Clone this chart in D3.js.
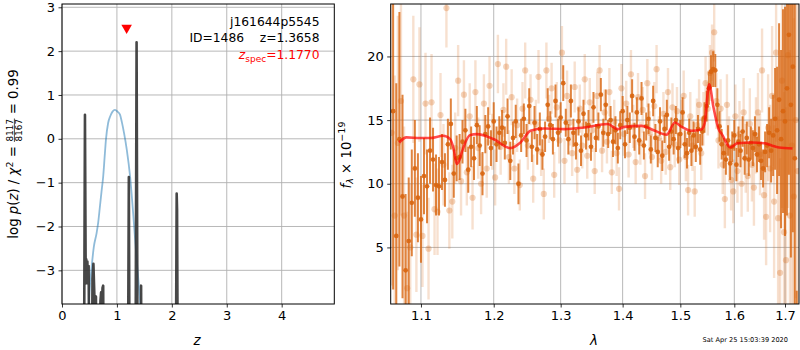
<!DOCTYPE html>
<html><head><meta charset="utf-8">
<script src="https://cdn.jsdelivr.net/npm/d3@7"></script>
<style>body{margin:0;background:#fff} svg{display:block;font-family:"DejaVu Sans",sans-serif}</style>
</head><body><svg id="c" width="800" height="350"></svg>
<script>
// ---------- Left panel data ----------
const zTicks = [0,1,2,3,4];
const logpTicks = [-3,-2,-1,0,1,2,3];
const pzZ   = [0.38,0.405,0.418,0.432,0.442,0.452,0.462,0.472,0.485,0.50,0.53,0.555,0.572,0.59,0.605,0.618,0.632,0.66,0.69,0.70,0.712,0.725,0.738,0.75,0.765,0.80,
               1.19,1.217,1.24,1.33,1.358,1.385,1.425,1.44,1.455,2.06,2.088,2.095,2.12];
const pzLog = [-9,-4,0.55,-3.3,-2.75,-3.25,-2.8,-3.3,-2.9,-6,-9,-3.2,-2.85,-3.6,-9,-3.6,-9,-9,-9,-3.7,-3.5,-3.9,-3.4,-3.35,-9,-9,
               -9,-0.87,-9,-9,2.2,-9,-9,-3.35,-9,-9,-1.25,-1.6,-9];
const priorZ   = [0.47,0.50,0.54,0.58,0.63,0.66,0.69,0.72,0.75,0.78,0.80,0.84,0.88,0.92,0.965,1.01,1.056,1.09,1.13,1.18,1.24,1.30,1.36,1.42,1.45];
const priorLog = [-4.2,-3.5,-2.92,-2.46,-2.15,-1.9,-1.55,-1.2,-0.86,-0.35,-0.02,0.36,0.52,0.62,0.66,0.62,0.55,0.38,0.13,-0.25,-0.86,-1.77,-2.76,-3.68,-4.2];
const zSpec = 1.1770, zSpecMarkerY = 2.53;

// ---------- Right panel data ----------
const lamTicks = [1.1,1.2,1.3,1.4,1.5,1.6,1.7];
const fluxTicks = [5,10,15,20];
const darkLam = [
1.064,1.068,1.072,1.076,1.080,1.084,1.088,1.092,1.096,1.100,
1.104,1.108,1.112,1.116,1.120,1.124,1.128,1.132,1.136,1.140,
1.144,1.148,1.152,1.156,1.160,1.164,1.168,1.172,1.176,1.180,
1.184,1.188,1.192,1.196,1.200,1.204,1.208,1.212,1.216,1.220,
1.224,1.228,1.232,1.236,1.240,1.244,1.248,1.252,1.256,1.260,
1.264,1.268,1.272,1.276,1.280,1.284,1.288,1.292,1.296,1.300,
1.304,1.308,1.312,1.316,1.320,1.324,1.328,1.332,1.336,1.340,
1.344,1.348,1.352,1.356,1.360,1.364,1.368,1.372,1.376,1.380,
1.384,1.388,1.392,1.396,1.400,1.404,1.408,1.412,1.416,1.420,
1.424,1.428,1.432,1.436,1.440,1.444,1.448,1.452,1.456,1.460,
1.464,1.468,1.472,1.476,1.480,1.484,1.488,1.492,1.496,1.500,
1.504,1.508,1.512,1.516,1.520,1.524,1.528,1.532,1.536,1.540,
1.544,1.548,1.552,1.556,1.560,1.564,1.568,1.572,1.576,1.580,
1.584,1.588,1.592,1.596,1.600,1.604,1.608,1.612,1.616,1.620,
1.624,1.628,1.632,1.636,1.640,1.644,1.648,1.652,1.656,1.660,
1.664,1.668,1.672,1.676,1.680,1.684,1.688,1.692,1.696,1.700,
1.704,1.708,1.712,1.716,1.720,1.724];
const darkFlux = [
15.7,5.9,13.5,9.0,3.2,5.5,8.5,11.2,8.9,7.2,
10.6,9.8,12.6,11.9,9.9,9.8,11.7,10.3,13.1,14.7,
10.8,12.0,12.1,13.3,14.2,11.1,12.9,12.0,14.6,13.0,
10.8,13.9,14.5,12.8,14.9,13.1,14.0,14.4,13.2,15.3,
11.8,13.6,14.9,10.0,13.8,15.1,13.4,16.1,12.9,14.8,
12.7,14.3,12.3,13.7,16.2,14.6,13.5,16.5,14.0,15.2,
17.9,14.8,13.5,16.5,14.0,13.1,14.9,12.6,15.5,13.8,
14.6,12.9,16.0,13.6,14.5,17.0,14.0,16.2,13.9,15.0,
13.3,14.2,12.8,14.6,15.7,13.1,15.0,14.4,16.9,13.7,
15.6,13.4,16.7,13.0,14.5,15.1,12.7,16.5,13.6,12.5,
14.9,12.2,14.3,15.4,12.9,14.1,13.5,15.0,12.8,13.9,
15.6,13.1,12.4,14.0,12.6,13.8,12.9,14.3,12.7,14.1,
15.2,16.1,17.5,18.8,19.0,18.9,16.2,14.5,13.1,12.4,
11.9,13.4,11.6,12.9,13.8,11.5,13.3,12.6,14.1,12.0,
13.6,11.9,13.2,12.8,13.9,12.3,13.1,11.8,11.2,12.5,
13.0,14.0,12.6,13.8,15.1,14.2,16.6,13.5,15.7,14.9,
17.5,21.7,16.2,19.2,12.0,-2.0];
const darkErr = [
14,12,10,8,6,5,4.2,3.8,3.5,3.4,
3.0,2.9,2.6,2.5,2.4,2.3,2.2,2.1,2.0,2.0,
1.9,1.8,1.8,1.7,1.7,1.8,1.6,1.7,1.5,1.6,
1.7,1.5,1.5,1.4,1.5,1.4,1.3,1.4,1.3,1.4,
1.5,1.3,1.3,1.6,1.3,1.2,1.3,1.4,1.2,1.3,
1.2,1.3,1.2,1.2,1.3,1.1,1.2,1.3,1.1,1.2,
1.4,1.1,1.2,1.3,1.1,1.2,1.1,1.2,1.1,1.1,
1.2,1.1,1.2,1.1,1.1,1.3,1.1,1.2,1.1,1.1,
1.2,1.1,1.2,1.1,1.2,1.1,1.1,1.2,1.3,1.1,
1.2,1.1,1.3,1.1,1.1,1.2,1.1,1.2,1.1,1.2,
1.1,1.2,1.1,1.2,1.1,1.1,1.2,1.1,1.2,1.1,
1.2,1.1,1.2,1.1,1.2,1.1,1.2,1.1,1.2,1.1,
1.2,1.2,1.3,1.3,1.4,1.3,1.3,1.2,1.2,1.2,
1.2,1.2,1.3,1.2,1.2,1.3,1.2,1.3,1.2,1.3,
1.3,1.3,1.3,1.4,1.4,1.4,1.4,1.5,1.5,1.6,
1.7,2.0,2.5,3.2,4.0,5.0,6.0,7.0,8.0,9.0,
10,11,12,13,14,3.6];
const lightLam = [
1.062,1.066,1.070,1.074,1.078,1.082,1.086,1.090,1.094,1.098,
1.102,1.106,1.110,1.114,1.118,1.122,1.126,1.130,1.134,1.138,
1.142,1.146,1.150,1.154,1.158,1.162,1.166,1.170,1.174,1.178,
1.182,1.186,1.190,1.194,1.198,1.202,1.206,1.210,1.214,1.218,
1.222,1.226,1.230,1.234,1.238,1.242,1.246,1.250,1.254,1.258,
1.262,1.266,1.270,1.274,1.278,1.282,1.286,1.290,1.294,1.298,
1.302,1.306,1.310,1.314,1.318,1.322,1.326,1.330,1.334,1.338,
1.342,1.346,1.350,1.354,1.358,1.362,1.366,1.370,1.374,1.378,
1.382,1.386,1.390,1.394,1.398,1.402,1.406,1.410,1.414,1.418,
1.422,1.426,1.430,1.434,1.438,1.442,1.446,1.450,1.454,1.458,
1.462,1.466,1.470,1.474,1.478,1.482,1.486,1.490,1.494,1.498,
1.502,1.506,1.510,1.514,1.518,1.522,1.526,1.530,1.534,1.538,
1.542,1.546,1.550,1.554,1.558,1.562,1.566,1.570,1.574,1.578,
1.582,1.586,1.590,1.594,1.598,1.602,1.606,1.610,1.614,1.618,
1.622,1.626,1.630,1.634,1.638,1.642,1.646,1.650,1.654,1.658,
1.662,1.666,1.670,1.674,1.678,1.682,1.686,1.690,1.694,1.698,
1.702,1.706,1.710,1.714,1.718,1.722,1.726];
const lightFlux = [
14.0,7.5,13.2,16.5,7.5,1.8,5.0,18.2,6.0,17.8,
5.9,16.3,4.9,16.4,8.0,7.8,15.4,11.5,23.8,7.9,
8.6,12.8,18.1,10.2,17.0,10.9,15.3,8.9,17.2,12.8,
10.0,16.3,11.2,17.7,13.3,10.5,19.4,12.9,15.8,19.2,
12.1,16.8,11.2,14.6,9.9,15.9,18.9,13.0,16.6,10.4,
14.7,18.4,12.5,9.2,18.9,15.1,17.5,10.7,16.0,13.4,
20.3,11.8,16.9,14.8,12.4,17.6,11.1,15.9,13.0,18.2,
12.2,16.4,14.2,11.0,16.9,18.9,12.6,15.6,13.3,17.2,
10.9,14.9,12.4,9.6,17.5,13.9,16.3,12.3,18.6,14.5,
11.7,16.8,13.2,15.8,10.6,17.9,14.0,12.1,16.1,19.0,
13.6,11.8,15.5,12.5,17.2,11.3,16.0,13.1,15.7,11.9,
14.8,16.9,12.1,9.5,15.3,13.0,9.4,14.6,16.2,12.4,
15.1,17.9,15.9,18.7,20.3,21.9,16.5,13.4,15.9,11.5,
8.8,16.2,12.9,10.3,9.4,15.3,11.0,13.9,10.0,15.6,
12.0,10.6,14.7,11.5,9.7,13.8,15.6,12.3,18.9,9.1,
7.4,14.4,11.2,16.9,8.6,20.3,7.3,3.0,18.1,6.2,
4.0,20.1,7.5,13.0,9.0,15.0,11.0];
const lightErr = [
12,11,10,9,7,6,5,5,4.5,4.5,
4,4,4,3.8,3.6,3.4,3.3,3.2,3.1,3.0,
2.9,2.8,2.8,2.7,2.7,2.6,2.6,2.5,2.5,2.4,
2.4,2.3,2.3,2.3,2.2,2.2,2.3,2.2,2.1,2.2,
2.1,2.2,2.0,2.1,2.0,2.1,2.2,1.9,2.0,1.9,
1.9,2.1,1.9,2.0,2.2,1.9,2.0,1.8,2.0,1.8,
2.1,1.8,2.0,1.8,1.8,2.0,1.8,1.9,1.8,2.0,
1.8,1.9,1.7,1.8,1.9,2.0,1.7,1.8,1.7,1.9,
1.7,1.7,1.8,1.7,1.9,1.7,1.8,1.8,1.9,1.7,
1.7,1.9,1.7,1.8,1.8,1.9,1.7,1.8,1.9,1.9,
1.7,1.8,1.7,1.8,1.9,1.8,1.9,1.8,1.9,2.0,
1.8,2.0,1.9,2.0,1.9,2.0,2.0,2.1,2.0,2.1,
2.1,2.1,2.1,2.2,2.2,2.3,2.2,2.2,2.3,2.3,
2.3,2.4,2.4,2.4,2.5,2.5,2.5,2.6,2.6,2.7,
2.7,2.8,2.8,2.9,3.0,3.0,3.1,3.2,3.3,3.5,
3.8,4.2,5,5.5,6,7,8,9,10,11,
12,12,13,13,14,14,14];
const modelLam  = [1.0717,1.0812,1.0987,1.1119,1.1298,1.139,1.144,1.148,1.152,1.155,1.1665,1.1757,1.1997,1.2241,1.239,1.254,1.2742,1.3055,1.3373,1.3752,1.3918,1.403,1.4318,1.4552,1.4755,1.4904,1.5025,1.5206,1.539,1.5445,1.5525,1.5607,1.5701,1.5764,1.5923,1.6052,1.6344,1.6609,1.6743,1.6878,1.7153];
const modelFlux = [13.24,13.64,13.59,13.59,13.77,13.51,12.7,11.55,11.9,12.46,13.82,13.9,13.51,12.8,13.24,14.16,14.34,14.29,14.42,14.69,14.29,14.47,14.55,14.16,13.85,14.81,14.47,14.16,14.29,14.8,17.82,15.99,14.3,13.9,12.85,13.17,13.24,13.17,12.99,12.85,12.77];

// ---------- Drawing ----------
const svg = d3.select("#c");
const minus = d => (d < 0 ? "\u2212" + Math.abs(d) : String(d));
const gridCol = "#b0b0b0";
const orange = "#d8650f";

function styleAxis(g){
  g.select(".domain").remove();
  g.selectAll(".tick line").attr("stroke","#000").attr("stroke-width",0.8);
  g.selectAll(".tick text").attr("fill","#000").style("font-size","13px").style("font-family","DejaVu Sans");
}

// Left panel
const L = {x0:62, x1:334.3, y0:4, y1:304};
const xz = d3.scaleLinear().domain([0,4.958]).range([L.x0,L.x1]);
const yp = d3.scaleLinear().domain([-3.768,3.075]).range([L.y1,L.y0]);
svg.append("clipPath").attr("id","clipL").append("rect").attr("x",L.x0).attr("y",L.y0).attr("width",L.x1-L.x0).attr("height",L.y1-L.y0);
const gL = svg.append("g");
gL.selectAll(".vg").data(zTicks).join("line").attr("x1",d=>xz(d)).attr("x2",d=>xz(d)).attr("y1",L.y0).attr("y2",L.y1).attr("stroke",gridCol).attr("stroke-width",0.9);
gL.selectAll(".hg").data(logpTicks).join("line").attr("y1",d=>yp(d)).attr("y2",d=>yp(d)).attr("x1",L.x0).attr("x2",L.x1).attr("stroke",gridCol).attr("stroke-width",0.9);
const dataL = gL.append("g").attr("clip-path","url(#clipL)");
dataL.append("path").datum(d3.range(priorZ.length)).attr("fill","none").attr("stroke","#1f77b4").attr("stroke-opacity",0.5).attr("stroke-width",1.8)
  .attr("d", d3.line().x(i=>xz(priorZ[i])).y(i=>yp(priorLog[i])).curve(d3.curveMonotoneX));
dataL.append("path").datum(d3.range(pzZ.length)).attr("fill","none").attr("stroke","#333").attr("stroke-opacity",0.9).attr("stroke-width",2.6).attr("stroke-linejoin","round")
  .attr("d", d3.line().x(i=>xz(pzZ[i])).y(i=>yp(pzLog[i])));
gL.append("path").attr("d", d3.symbol(d3.symbolTriangle, 48)()).attr("fill","red")
  .attr("transform",`translate(${xz(zSpec)},${yp(zSpecMarkerY)}) rotate(180)`);
gL.append("rect").attr("x",L.x0).attr("y",L.y0).attr("width",L.x1-L.x0).attr("height",L.y1-L.y0).attr("fill","none").attr("stroke","#000").attr("stroke-width",1);
const axLx = gL.append("g").attr("transform",`translate(0,${L.y1})`).call(d3.axisBottom(xz).tickValues(zTicks).tickSize(3.5).tickPadding(3.5).tickFormat(minus));
styleAxis(axLx);
const axLy = gL.append("g").attr("transform",`translate(${L.x0},0)`).call(d3.axisLeft(yp).tickValues(logpTicks).tickSize(3.5).tickPadding(3.5).tickFormat(minus));
styleAxis(axLy);
// annotations
const tx = 319.5;
gL.append("text").attr("x",tx).attr("y",26).attr("text-anchor","end").style("font-size","12.3px").text("j161644p5545");
gL.append("text").attr("x",tx).attr("y",41.5).attr("text-anchor","end").style("font-size","12.3px").text("ID=1486\u00a0\u00a0\u00a0\u00a0z=1.3658");
const zs = gL.append("text").attr("x",tx).attr("y",59).attr("text-anchor","end").style("font-size","12.3px").attr("fill","red");
zs.append("tspan").style("font-style","italic").text("z");
zs.append("tspan").attr("dy",2.5).style("font-size","9px").text("spec");
zs.append("tspan").attr("dy",-2.5).text("=1.1770");
// x label
gL.append("text").attr("x",197).attr("y",345).attr("text-anchor","middle").style("font-size","13.5px").style("font-style","italic").text("z");
// y label (rotated, with fraction)
const yl = svg.append("g").attr("transform","translate(18,154) rotate(-90)");
const t1 = yl.append("text").attr("x",0).attr("y",0).style("font-size","13.3px");
t1.append("tspan").text("log\u00a0");
t1.append("tspan").style("font-style","italic").text("p");
t1.append("tspan").text("(");
t1.append("tspan").style("font-style","italic").text("z");
t1.append("tspan").text(")\u00a0/\u00a0");
t1.append("tspan").style("font-style","italic").text("\u03c7");
t1.append("tspan").attr("dy",-5).style("font-size","9.5px").text("2");
t1.append("tspan").attr("dy",5).text("\u00a0=\u00a0");
const w1 = t1.node().getComputedTextLength();
const fr = yl.append("g");
const num = fr.append("text").attr("y",-4.8).style("font-size","8.8px").text("8117");
const den = fr.append("text").attr("y",4.4).style("font-size","8.8px").text("8167");
const wf = Math.max(num.node().getComputedTextLength(), den.node().getComputedTextLength()) + 1;
const t3 = yl.append("text").attr("y",0).style("font-size","13.3px").text("\u00a0=\u00a00.99");
const w3 = t3.node().getComputedTextLength();
const W = w1 + wf + w3;
const sx = -W/2;
t1.attr("x", sx);
num.attr("x", sx + w1 + 0.5);
den.attr("x", sx + w1 + 0.5);
fr.append("line").attr("x1",sx+w1).attr("x2",sx+w1+wf).attr("y1",-3.6).attr("y2",-3.6).attr("stroke","#000").attr("stroke-width",0.7);
t3.attr("x", sx + w1 + wf);

// Right panel
const R = {x0:390.7, x1:799, y0:4, y1:304};
const xl = d3.scaleLog().domain([1.0609,1.7287]).range([R.x0,R.x1]);
const yf = d3.scaleLinear().domain([0.555,24.12]).range([R.y1,R.y0]);
svg.append("clipPath").attr("id","clipR").append("rect").attr("x",R.x0).attr("y",R.y0).attr("width",R.x1-R.x0).attr("height",R.y1-R.y0);
const gR = svg.append("g");
gR.selectAll(".vg").data(lamTicks).join("line").attr("x1",d=>xl(d)).attr("x2",d=>xl(d)).attr("y1",R.y0).attr("y2",R.y1).attr("stroke",gridCol).attr("stroke-width",0.9);
gR.selectAll(".hg").data(fluxTicks).join("line").attr("y1",d=>yf(d)).attr("y2",d=>yf(d)).attr("x1",R.x0).attr("x2",R.x1).attr("stroke",gridCol).attr("stroke-width",0.9);
const dataR = gR.append("g").attr("clip-path","url(#clipR)");
const li = d3.range(Math.min(lightLam.length,lightFlux.length,lightErr.length));
dataR.append("g").selectAll("line").data(li).join("line")
  .attr("x1",i=>xl(lightLam[i])).attr("x2",i=>xl(lightLam[i]))
  .attr("y1",i=>yf(lightFlux[i]-lightErr[i])).attr("y2",i=>yf(lightFlux[i]+lightErr[i]))
  .attr("stroke",orange).attr("stroke-opacity",0.2).attr("stroke-width",2.4);
dataR.append("g").selectAll("circle").data(li).join("circle")
  .attr("cx",i=>xl(lightLam[i])).attr("cy",i=>yf(lightFlux[i])).attr("r",3.1)
  .attr("fill",orange).attr("fill-opacity",0.28);
const di = d3.range(Math.min(darkLam.length,darkFlux.length,darkErr.length));
dataR.append("g").selectAll("line").data(di).join("line")
  .attr("x1",i=>xl(darkLam[i])).attr("x2",i=>xl(darkLam[i]))
  .attr("y1",i=>yf(darkFlux[i]-darkErr[i])).attr("y2",i=>yf(darkFlux[i]+darkErr[i]))
  .attr("stroke",orange).attr("stroke-opacity",0.8).attr("stroke-width",2);
dataR.append("g").selectAll("circle").data(di).join("circle")
  .attr("cx",i=>xl(darkLam[i])).attr("cy",i=>yf(darkFlux[i])).attr("r",2.4)
  .attr("fill",orange).attr("fill-opacity",0.9);
dataR.append("path").datum(d3.range(modelLam.length)).attr("fill","none").attr("stroke","red").attr("stroke-opacity",0.7).attr("stroke-width",2.6)
  .attr("d", d3.line().x(i=>xl(modelLam[i])).y(i=>yf(modelFlux[i])).curve(d3.curveMonotoneX));
gR.append("rect").attr("x",R.x0).attr("y",R.y0).attr("width",R.x1-R.x0).attr("height",R.y1-R.y0).attr("fill","none").attr("stroke","#000").attr("stroke-width",1);
const axRx = gR.append("g").attr("transform",`translate(0,${R.y1})`).call(d3.axisBottom(xl).tickValues(lamTicks).tickSize(3.5).tickPadding(3.5).tickFormat(d3.format(".1f")));
styleAxis(axRx);
const axRy = gR.append("g").attr("transform",`translate(${R.x0},0)`).call(d3.axisLeft(yf).tickValues(fluxTicks).tickSize(3.5).tickPadding(3.5).tickFormat(d3.format("d")));
styleAxis(axRy);
gR.append("text").attr("x",594).attr("y",345).attr("text-anchor","middle").style("font-size","13.5px").style("font-style","italic").text("\u03bb");
const yr = svg.append("g").attr("transform","translate(350.5,155) rotate(-90)");
const tr = yr.append("text").attr("text-anchor","middle").style("font-size","13.3px");
tr.append("tspan").style("font-style","italic").text("f");
tr.append("tspan").attr("dy",2.5).style("font-size","9.5px").style("font-style","italic").text("\u03bb");
tr.append("tspan").attr("dy",-2.5).text("\u00a0\u00d7\u00a010");
tr.append("tspan").attr("dy",-5.5).style("font-size","9.5px").text("\u221219");
// timestamp
svg.append("text").attr("x",788).attr("y",341.5).attr("text-anchor","end").style("font-size","6.6px").text("Sat Apr 25 15:03:39 2020");
</script></body></html>
